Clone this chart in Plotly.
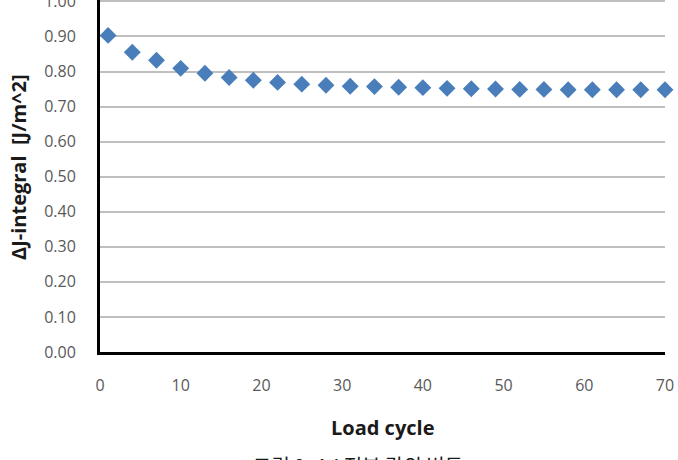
import plotly.graph_objects as go

cycles = [1, 4, 7, 10, 13, 16, 19, 22, 25, 28, 31, 34, 37, 40, 43, 46, 49, 52, 55, 58, 61, 64, 67, 70]
dj = [0.903, 0.855, 0.832, 0.809, 0.795, 0.783, 0.775, 0.769, 0.764, 0.761, 0.758, 0.757,
      0.755, 0.754, 0.752, 0.751, 0.750, 0.749, 0.749, 0.748, 0.748, 0.748, 0.748, 0.748]
y_ticks = [0, 0.1, 0.2, 0.3, 0.4, 0.5, 0.6, 0.7, 0.8, 0.9, 1.0]
x_ticks = [0, 10, 20, 30, 40, 50, 60, 70]

# plot area: left 100, right 665, top 0, bottom 352
L, R, T, B = 100, 665, 0, 352
W, H = R - L, B - T

def px_y(p):
    return (B - p) / H

def px_x(p):
    return (p - L) / W

fig = go.Figure()
fig.add_trace(go.Scatter(
    x=cycles, y=dj, mode="markers",
    marker=dict(symbol="diamond", size=13, color="#4a7ebb", line=dict(width=0)),
    cliponaxis=False,
))

tickfont = dict(family="Open Sans, Liberation Sans, sans-serif", size=16, color="#595959")
fig.update_layout(
    width=678, height=460,
    margin=dict(l=L, r=678 - R, t=T, b=460 - B),
    paper_bgcolor="white", plot_bgcolor="white",
    showlegend=False,
    xaxis=dict(range=[0, 70], tickvals=x_ticks, ticks="", showgrid=False,
               showline=True, linecolor="black", linewidth=3, zeroline=False,
               tickfont=tickfont, ticklabelstandoff=17, automargin=False),
    yaxis=dict(range=[0, 1.004], tickvals=y_ticks, tickformat=".2f", ticks="",
               showgrid=True, gridcolor="#bfbfbf", gridwidth=1.5,
               showline=True, linecolor="black", linewidth=3, zeroline=False,
               tickfont=tickfont, ticklabelstandoff=18, ticklabeloverflow="allow",
               automargin=False),
    annotations=[
        dict(text="<b>Load cycle</b>", xref="paper", yref="paper", x=0.5, y=px_y(427),
             xanchor="center", yanchor="middle", showarrow=False,
             font=dict(family="Open Sans, sans-serif", size=20, color="#1a1a1a")),
        dict(text="<b>ΔJ-integral  [J/m^2]</b>", xref="paper", yref="paper",
             x=px_x(18), y=px_y(167), textangle=-90,
             xanchor="center", yanchor="middle", showarrow=False,
             font=dict(family="Open Sans, sans-serif", size=20, color="#1a1a1a")),
        dict(text="그림 9. ΔJ 적분 값의 변동", xref="paper", yref="paper",
             x=px_x(358), y=px_y(449),
             xanchor="center", yanchor="top", showarrow=False,
             font=dict(family="Noto Sans CJK KR", size=20, color="#1a1a1a")),
    ],
)

fig.write_html("out.html")
